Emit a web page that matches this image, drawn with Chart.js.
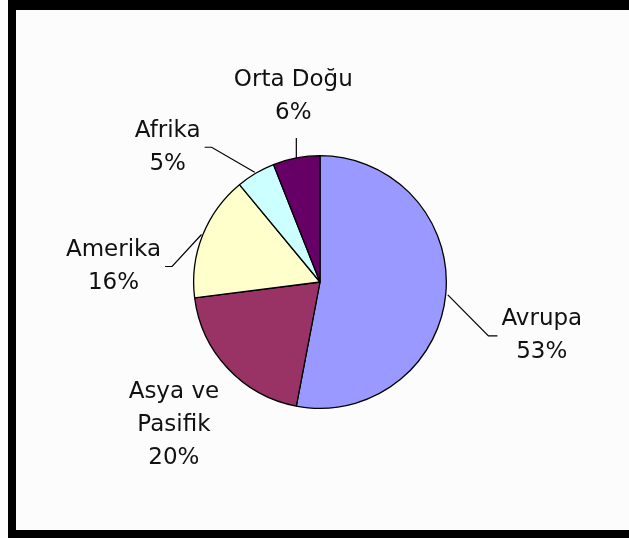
<!DOCTYPE html>
<html>
<head>
<meta charset="utf-8">
<script src="https://cdn.jsdelivr.net/npm/chart.js@4"></script>
<style>
    html, body { margin: 0; padding: 0; background: #fcfcfc; }
    #wrap { position: relative; width: 629px; height: 538px; overflow: hidden; }
    .bar { position: absolute; background: #000; }
</style>
</head>
<body>
<div id="wrap">
    <canvas id="pie" width="629" height="538"></canvas>
    <div class="bar" style="left:8px; top:0; width:621px; height:10px;"></div>
    <div class="bar" style="left:8px; top:0; width:8px; height:538px;"></div>
    <div class="bar" style="left:8px; top:530px; width:621px; height:8px;"></div>
</div>
<script>
// regions and their shares (%)
const regions = ["Avrupa", "Asya ve Pasifik", "Amerika", "Afrika", "Orta Doğu"];
const shares = [53, 20, 16, 5, 6];
const colors = ["#9999ff", "#993366", "#ffffcc", "#ccffff", "#660066"];

// label text lines (name split the way the picture wraps it)
const labelLines = [["Avrupa"], ["Asya ve", "Pasifik"], ["Amerika"], ["Afrika"], ["Orta Doğu"]];

// label placement: offset of the text block centre from the slice's edge point
const labelNudge = [[96, 42], [-54, 57], [-89, 31], [-88, -26], [-3, -61]];
const leader = ["left", "none", "right", "right", "bottom"];

const FONT = '23px "DejaVu Sans", sans-serif';
const LINE_H = 33;

const pieLabels = {
    id: "pieLabels",
    afterDatasetsDraw(chart) {
        const { ctx } = chart;
        const meta = chart.getDatasetMeta(0);
        ctx.save();
        ctx.font = FONT;
        ctx.fillStyle = "#111";
        ctx.strokeStyle = "#000";
        ctx.lineWidth = 1.2;
        ctx.textAlign = "center";
        ctx.textBaseline = "middle";
        meta.data.forEach((arc, i) => {
            const mid = (arc.startAngle + arc.endAngle) / 2;
            const ex = arc.x + Math.cos(mid) * arc.outerRadius;
            const ey = arc.y + Math.sin(mid) * arc.outerRadius;
            const lines = labelLines[i].concat([shares[i] + "%"]);
            const cx = ex + labelNudge[i][0];
            const cy = ey + labelNudge[i][1];
            const top = cy - (lines.length * LINE_H) / 2;
            let w = 0;
            lines.forEach((t, k) => {
                w = Math.max(w, ctx.measureText(t).width);
                ctx.fillText(t, cx, top + LINE_H * (k + 0.5));
            });
            // leader line, Excel style
            ctx.beginPath();
            if (leader[i] === "left") {
                const lx = cx - w / 2 - 4;
                ctx.moveTo(ex + 2, ey + 1);
                ctx.lineTo(lx - 9, cy);
                ctx.lineTo(lx, cy);
                ctx.stroke();
            } else if (leader[i] === "right") {
                const rx = cx + w / 2 + 4;
                ctx.moveTo(ex - 1, ey - 1);
                ctx.lineTo(rx + 7, cy);
                ctx.lineTo(rx, cy);
                ctx.stroke();
            } else if (leader[i] === "bottom") {
                ctx.moveTo(ex, ey);
                ctx.lineTo(ex, top + lines.length * LINE_H + 8);
                ctx.stroke();
            }
        });
        ctx.restore();
    }
};

new Chart(document.getElementById("pie").getContext("2d"), {
    type: "pie",
    data: {
        labels: regions,
        datasets: [{
            data: shares,
            backgroundColor: colors,
            borderColor: "#000",
            borderWidth: 1.3,
            hoverOffset: 0
        }]
    },
    options: {
        responsive: false,
        animation: false,
        layout: { padding: { left: 193, right: 182, top: 155, bottom: 129 } },
        plugins: {
            legend: { display: false },
            tooltip: { enabled: false }
        }
    },
    plugins: [pieLabels]
});
</script>
</body>
</html>
